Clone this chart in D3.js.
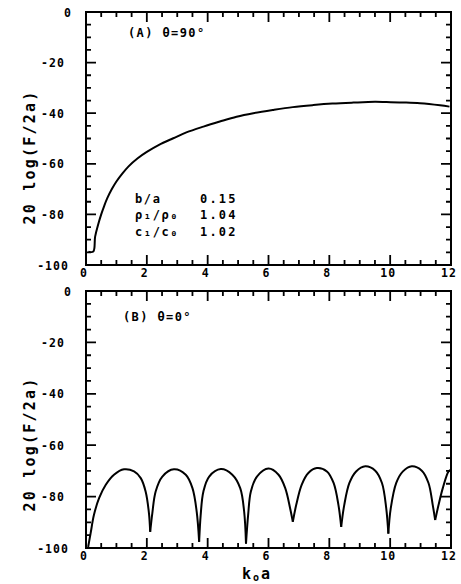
<!DOCTYPE html>
<html>
<head>
<meta charset="utf-8">
<script src="https://cdn.jsdelivr.net/npm/d3@7"></script>
<style>
  body { margin: 0; background: #fff; }
  text { font-family: "DejaVu Sans Mono", monospace; font-weight: bold; fill: #000; }
</style>
</head>
<body>
<svg id="chart" width="461" height="584"></svg>
<script>
// panel A, theta = 90 deg
const kA = [0.08, 0.24, 0.30, 0.40, 0.50, 0.60, 0.70, 0.85, 1.0, 1.2, 1.4, 1.7, 2.0, 2.4, 2.87, 3.3,
  3.86, 4.4, 4.95, 5.5, 6.16, 6.8, 7.47, 8.1, 8.79, 9.5, 9.88, 10.5, 10.98, 11.64, 11.95];
const levelA = [-94.7, -94.7, -88.8, -84.0, -80.0, -76.6, -73.6, -70.0, -67.0, -63.8, -61.0, -57.8, -55.3, -52.5, -49.9, -47.6,
  -45.3, -43.3, -41.4, -40.0, -38.7, -37.6, -36.8, -36.2, -35.8, -35.5, -35.6, -35.8, -36.1, -36.9, -37.4];

// panel B, theta = 0 deg
const kB = [0.07, 0.15, 0.26, 0.43, 0.65, 0.92, 1.25, 1.58, 1.80, 1.96, 2.07, 2.11,
  2.18, 2.29, 2.51, 2.89, 3.28, 3.50, 3.64, 3.72,
  3.77, 3.86, 4.05, 4.43, 4.81, 5.07, 5.20, 5.26,
  5.33, 5.42, 5.62, 6.0, 6.33, 6.55, 6.71, 6.80,
  6.91, 7.09, 7.31, 7.59, 7.92, 8.14, 8.30, 8.39,
  8.49, 8.66, 8.88, 9.18, 9.51, 9.73, 9.87, 9.94,
  10.02, 10.20, 10.42, 10.71, 11.04, 11.26, 11.40, 11.48,
  11.59, 11.73, 11.92, 12.0];
const levelB = [-99.6, -94.4, -87.2, -80.6, -75.4, -71.5, -69.4, -70.2, -72.8, -78.0, -86.5, -93.7,
  -86.5, -78.0, -72.2, -69.4, -71.5, -76.7, -85.9, -97.6,
  -87.2, -78.0, -72.2, -69.3, -71.5, -76.7, -85.9, -98.3,
  -87.2, -78.0, -72.2, -69.1, -71.5, -76.7, -84.5, -89.8,
  -83.3, -75.4, -70.8, -68.9, -70.2, -74.7, -83.3, -91.8,
  -83.3, -74.7, -70.2, -68.2, -69.9, -74.7, -84.5, -94.4,
  -84.5, -74.7, -70.2, -68.2, -69.9, -74.7, -83.3, -89.1,
  -83.3, -76.7, -70.2, -69.5];

const xTicks = [0, 2, 4, 6, 8, 10, 12];
const yTicks = [0, -20, -40, -60, -80, -100];
const panelTitles = ['(A)  θ=90°', '(B)  θ=0°'];
const paramNames = ['b/a', 'ρ₁/ρ₀', 'c₁/c₀'];
const paramValues = ['0.15', '1.04', '1.02'];
const yTitle = '20 log(F/2a)';

const svg = d3.select('#chart');

const panels = [
  { k: kA, level: levelA, title: panelTitles[0], top: 12, bottom: 265, titleX: 128, titleY: 37, yTitleY: 157 },
  { k: kB, level: levelB, title: panelTitles[1], top: 291, bottom: 548, titleX: 123, titleY: 321, yTitleY: 444 },
];
const left = 86, right = 451;
const MAJOR = 10, MINOR = 5;

// split a series at its interior minima so the dips stay sharp
const splitAtDips = (pts) => {
  const segs = [];
  let cur = [pts[0]];
  for (let i = 1; i < pts.length; i++) {
    cur.push(pts[i]);
    if (i < pts.length - 1 && pts[i][1] < pts[i - 1][1] && pts[i][1] < pts[i + 1][1]) {
      segs.push(cur);
      cur = [pts[i]];
    }
  }
  segs.push(cur);
  return segs;
};

panels.forEach((p) => {
  const x = d3.scaleLinear().domain([0, 12]).range([left, right]);
  const y = d3.scaleLinear().domain([-100, 0]).range([p.bottom, p.top]);
  const g = svg.append('g');

  const xMinor = d3.range(0.5, 12, 0.5).filter(v => v % 2 !== 0);
  const yMinor = d3.range(-95, 0, 5).filter(v => v % 20 !== 0);

  g.append('rect')
    .attr('x', left).attr('y', p.top)
    .attr('width', right - left).attr('height', p.bottom - p.top)
    .attr('fill', 'none').attr('stroke', '#000').attr('stroke-width', 2);

  // inward tick marks on the four sides, drawn as one path
  const len = v => (xTicks.includes(v) || yTicks.includes(v) ? MAJOR : MINOR);
  const xs = xTicks.slice(1, -1).concat(xMinor);
  const ys = yTicks.slice(1, -1).concat(yMinor);
  const tickPath = d3.path();
  xs.forEach((v) => {
    tickPath.moveTo(x(v), p.bottom); tickPath.lineTo(x(v), p.bottom - len(v));
    tickPath.moveTo(x(v), p.top); tickPath.lineTo(x(v), p.top + len(v));
  });
  ys.forEach((v) => {
    tickPath.moveTo(left, y(v)); tickPath.lineTo(left + len(v), y(v));
    tickPath.moveTo(right, y(v)); tickPath.lineTo(right - len(v), y(v));
  });
  g.append('path').attr('d', tickPath.toString())
    .attr('fill', 'none').attr('stroke', '#000').attr('stroke-width', 1.8);

  // tick labels
  g.selectAll(null).data(xTicks).enter().append('text')
    .attr('x', d => x(d) - 2).attr('y', p.bottom + 12)
    .attr('text-anchor', 'middle').attr('font-size', 11.5).attr('letter-spacing', 1)
    .text(d => d);
  g.selectAll(null).data(yTicks).enter().append('text')
    .attr('x', d => (d === 0 ? 72 : 53)).attr('y', d => y(d) + 4.5)
    .attr('text-anchor', d => (d === 0 ? 'end' : 'middle'))
    .attr('font-size', 11.5).attr('letter-spacing', 1)
    .text(d => (d < 0 ? '-' + (-d) : d));

  g.append('text')
    .attr('transform', `translate(35,${p.yTitleY}) rotate(-90)`)
    .attr('text-anchor', 'middle').attr('font-size', 15).attr('letter-spacing', 2.2)
    .text(yTitle);

  g.append('text')
    .attr('x', p.titleX).attr('y', p.titleY)
    .attr('font-size', 12).attr('letter-spacing', 1.4)
    .text(p.title);

  const line = d3.line().x(d => x(d[0])).y(d => y(d[1])).curve(d3.curveCatmullRom.alpha(0.5));
  const pts = d3.zip(p.k, p.level);
  g.selectAll(null).data(splitAtDips(pts)).enter().append('path')
    .attr('d', line)
    .attr('fill', 'none').attr('stroke', '#000').attr('stroke-width', 2)
    .attr('stroke-linejoin', 'round');
});

// parameter block in panel A
const params = svg.append('g');
paramNames.forEach((n, i) => {
  params.append('text').attr('x', 135).attr('y', 202.5 + i * 16.5)
    .attr('font-size', 12).attr('letter-spacing', 1.6).text(n);
  params.append('text').attr('x', 200).attr('y', 202.5 + i * 16.5)
    .attr('font-size', 12).attr('letter-spacing', 2.2).text(paramValues[i]);
});

// x axis title k0a
const xt = svg.append('text')
  .attr('x', 257).attr('y', 579).attr('text-anchor', 'middle')
  .attr('font-size', 15).attr('letter-spacing', 2);
xt.append('tspan').text('k');
xt.append('tspan').attr('font-size', 10).attr('dy', 2).text('o');
xt.append('tspan').attr('dy', -2).text('a');
</script>
</body>
</html>
